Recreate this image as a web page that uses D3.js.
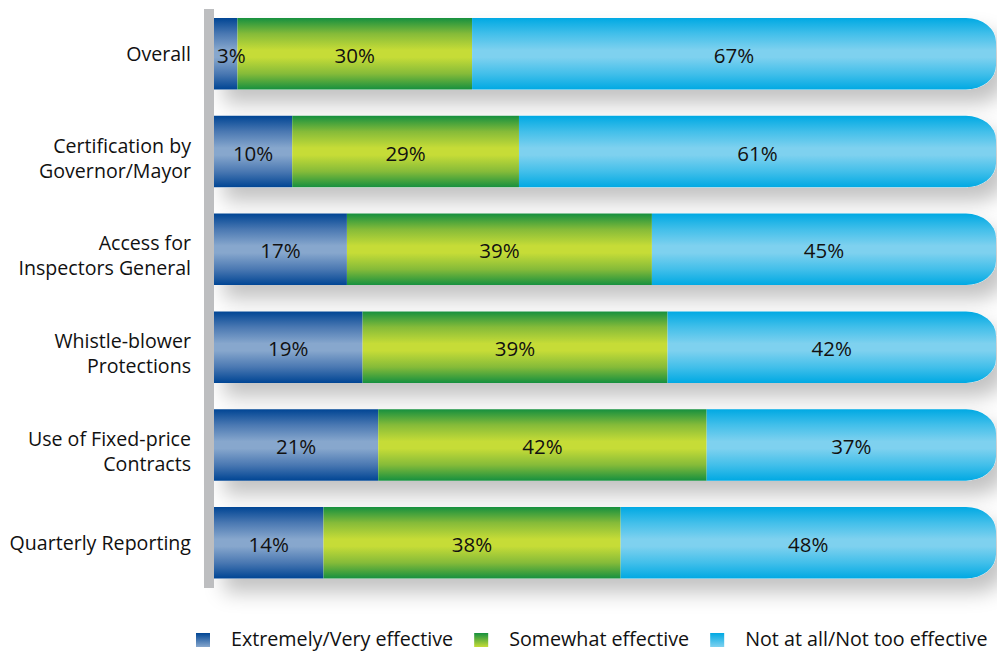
<!DOCTYPE html>
<html>
<head>
<meta charset="utf-8">
<script src="https://cdn.jsdelivr.net/npm/d3@7"></script>
<style>
  html, body { margin: 0; padding: 0; background: #fff; }
  svg { display: block; font-family: "Open Sans", "Noto Sans", sans-serif; font-weight: 500; }
</style>
</head>
<body>
<svg id="chart" width="997" height="652"></svg>
<script>
// chart data
const categories = [
    ["Overall"],
    ["Certification by", "Governor/Mayor"],
    ["Access for", "Inspectors General"],
    ["Whistle-blower", "Protections"],
    ["Use of Fixed-price", "Contracts"],
    ["Quarterly Reporting"],
];
const extremely = [3, 10, 17, 19, 21, 14];
const somewhat = [30, 29, 39, 39, 42, 38];
const notAtAll = [67, 61, 45, 42, 37, 48];
const seriesNames = ["Extremely/Very effective", "Somewhat effective", "Not at all/Not too effective"];

const svg = d3.select("#chart");

const x = d3.scaleLinear().domain([0, 100]).range([214, 996]);
const y = d3.scaleBand()
    .domain(d3.range(categories.length))
    .range([18, 578.5])
    .paddingInner(0.269)
    .paddingOuter(0);

const gradients = [
    { id: "gBlue", stops: ["#004594", "#4a78b2", "#87a7cd", "#87a7cd", "#4a78b2", "#004594"] },
    { id: "gGreen", stops: ["#16903f", "#85bb39", "#c6dc37", "#c6dc37", "#85bb39", "#16903f"] },
    { id: "gCyan", stops: ["#00a9e3", "#42bfea", "#7ed1ef", "#7ed1ef", "#42bfea", "#00a9e3"] },
];
const offsets = [0, 0.22, 0.45, 0.55, 0.78, 1];

const defs = svg.append("defs");
gradients.forEach((g) => {
    const lg = defs.append("linearGradient")
        .attr("id", g.id)
        .attr("x1", 0).attr("y1", 0).attr("x2", 0).attr("y2", 1);
    g.stops.forEach((c, i) => {
        lg.append("stop").attr("offset", offsets[i]).attr("stop-color", c);
    });
    // legend swatch: dark at top, light at bottom
    const lk = defs.append("linearGradient")
        .attr("id", g.id + "Key")
        .attr("x1", 0).attr("y1", 0).attr("x2", 0).attr("y2", 1);
    lk.append("stop").attr("offset", 0).attr("stop-color", g.stops[0]);
    lk.append("stop").attr("offset", 1).attr("stop-color", g.stops[2]);
});

const filter = defs.append("filter")
    .attr("id", "shadow")
    .attr("x", "-10%").attr("y", "-50%")
    .attr("width", "130%").attr("height", "250%");
filter.append("feDropShadow")
    .attr("dx", 10).attr("dy", 14)
    .attr("stdDeviation", 10)
    .attr("flood-color", "#000")
    .attr("flood-opacity", 0.24);

const rx = 30, ry = 24;
const roundRight = (x0, x1, y0, h) =>
    `M${x0},${y0}H${x1 - rx}A${rx},${ry} 0 0 1 ${x1},${y0 + ry}` +
    `V${y0 + h - ry}A${rx},${ry} 0 0 1 ${x1 - rx},${y0 + h}H${x0}Z`;

const rows = categories.map((c, i) => ({
    i,
    lines: c,
    segs: [
        { k: 0, v: extremely[i], a: 0, b: extremely[i] },
        { k: 1, v: somewhat[i], a: extremely[i], b: extremely[i] + somewhat[i] },
        { k: 2, v: notAtAll[i], a: extremely[i] + somewhat[i], b: 100 },
    ],
}));

// shadows under each full bar
svg.append("g")
    .selectAll("path")
    .data(rows)
    .join("path")
    .attr("d", (d) => roundRight(x(0), x(100), y(d.i), y.bandwidth()))
    .attr("fill", "#fff")
    .attr("filter", "url(#shadow)");

// bar segments
const fills = ["url(#gBlue)", "url(#gGreen)", "url(#gCyan)"];
const row = svg.append("g")
    .selectAll("g")
    .data(rows)
    .join("g");

row.selectAll("path")
    .data((d) => d.segs.map((s) => ({ ...s, i: d.i })))
    .join("path")
    .attr("d", (s) => s.k === 2
        ? roundRight(x(s.a), x(s.b), y(s.i), y.bandwidth())
        : `M${x(s.a)},${y(s.i)}H${x(s.b)}V${y(s.i) + y.bandwidth()}H${x(s.a)}Z`)
    .attr("fill", (s) => fills[s.k]);

row.selectAll("text")
    .data((d) => d.segs.map((s) => ({ ...s, i: d.i })))
    .join("text")
    .attr("x", (s) => (x(s.a) + x(s.b)) / 2)
    .attr("y", (s) => y(s.i) + y.bandwidth() / 2 + 9)
    .attr("text-anchor", "middle")
    .attr("font-size", 20.5)
    .attr("fill", "#111")
    .text((s) => s.v + "%")
    .each(function (s) {
        // labels wider than their segment start at the segment's left edge
        const w = this.getComputedTextLength();
        if (w > x(s.b) - x(s.a)) {
            d3.select(this).attr("text-anchor", "start").attr("x", x(s.a) + 3);
        }
    });

// gray axis bar
svg.append("rect")
    .attr("x", 204).attr("y", 9)
    .attr("width", 10).attr("height", 579)
    .attr("fill", "#bdbec0");

// category labels
const labels = svg.append("g")
    .selectAll("text")
    .data(rows)
    .join("text")
    .attr("text-anchor", "end")
    .attr("font-size", 19.6)
    .attr("fill", "#111")
    .attr("y", (d) => {
        const c = y(d.i) + y.bandwidth() / 2;
        return d.lines.length === 1 ? c + 7 : c + 1;
    });
labels.selectAll("tspan")
    .data((d) => d.lines)
    .join("tspan")
    .attr("x", 191)
    .attr("dy", (l, j) => j === 0 ? 0 : 25)
    .text((l) => l);

// legend
const legend = svg.append("g");
let lx = 196;
seriesNames.forEach((name, k) => {
    legend.append("rect")
        .attr("x", lx).attr("y", 633)
        .attr("width", 14).attr("height", 14)
        .attr("fill", `url(#${gradients[k].id}Key)`);
    const t = legend.append("text")
        .attr("x", lx + 35).attr("y", 646)
        .attr("font-size", 19.7)
        .attr("fill", "#111")
        .text(name);
    lx += 35 + t.node().getComputedTextLength() + 21;
});
</script>
</body>
</html>
